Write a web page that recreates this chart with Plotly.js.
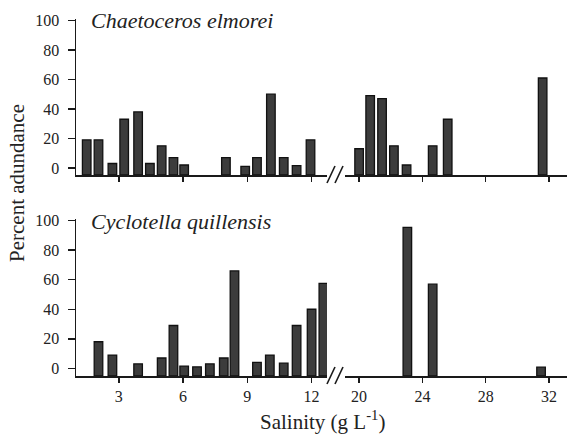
<!DOCTYPE html>
<html>
<head>
<meta charset="utf-8">
<script src="https://cdn.plot.ly/plotly-3.0.1.min.js"></script>
<style>html,body{margin:0;padding:0;background:#fff}</style>
</head>
<body>
<div id="chart" style="width:567px;height:436px"></div>
<script>
// Chaetoceros elmorei (top panel)
const chaetSalinity = [1.5, 2.05, 2.7, 3.25, 3.9, 4.45, 5.0, 5.55, 6.05, 8.0, 8.9, 9.45, 10.1, 10.7, 11.3, 11.95, 20.0, 20.7, 21.45, 22.2, 23.0, 24.65, 25.6, 31.6];
const chaetAbundance = [19, 19, 3, 33, 38, 3, 15, 7, 2, 7, 1, 7, 50, 7, 1.5, 19, 13, 49, 47, 15, 2, 15, 33, 61];
// Cyclotella quillensis (bottom panel)
const cycloSalinity = [2.05, 2.7, 3.9, 5.0, 5.55, 6.05, 6.65, 7.25, 7.9, 8.4, 9.45, 10.05, 10.7, 11.3, 12.0, 12.55, 23.05, 24.65, 31.5];
const cycloAbundance = [18, 9, 3, 7, 29, 1.5, 1, 3, 7, 66, 4, 9, 3.5, 29, 40, 57.5, 95.5, 57, 0.8];
// axis ticks
const lowTicks = [3, 6, 9, 12];
const highTicks = [20, 24, 28, 32];
const yTicks = [0, 20, 40, 60, 80, 100];
const speciesNames = ["Chaetoceros elmorei", "Cyclotella quillensis"];
const yTitle = "Percent adundance";
const xTitle = "Salinity (g L<sup>-1</sup>)";

const BREAK = 16;
const TOP_BASE = -4.8, BOT_BASE = -5.2;
const barFill = '#3c3c3c', barLine = '#111';

function split(sal, val, low) {
  const xs = [], ys = [];
  sal.forEach((s, i) => { if ((s < BREAK) === low) { xs.push(s); ys.push(val[i]); } });
  return [xs, ys];
}
function barTrace(sal, val, low, base, xa, ya, width) {
  const [xs, ys] = split(sal, val, low);
  return {
    type: 'bar', x: xs, y: ys.map(v => v - base), base: base,
    customdata: ys, hovertemplate: '%{x}: %{customdata}%<extra></extra>',
    width: width, xaxis: xa, yaxis: ya,
    marker: {color: barFill, line: {color: barLine, width: 1.3}}
  };
}
const traces = [
  barTrace(chaetSalinity, chaetAbundance, true, TOP_BASE, 'x3', 'y', 0.40),
  barTrace(chaetSalinity, chaetAbundance, false, TOP_BASE, 'x4', 'y', 0.54),
  barTrace(cycloSalinity, cycloAbundance, true, BOT_BASE, 'x', 'y2', 0.40),
  barTrace(cycloSalinity, cycloAbundance, false, BOT_BASE, 'x2', 'y2', 0.54)
];

const serif = "'Liberation Serif', 'Times New Roman', serif";
const tickFont = {family: serif, size: 16, color: '#222'};
const axCol = '#1a1a1a';
const LEFT_DOM = [0, 0.5112], RIGHT_DOM = [0.5479, 1];
const LOW_RANGE = [1, 12.72], HIGH_RANGE = [19.11, 33.14];
function xax(dom, rng, ticks, anchor, labels) {
  return {domain: dom, range: rng, anchor: anchor, tickvals: ticks,
    showticklabels: labels, ticks: 'outside', ticklen: 5, tickwidth: 1.5, tickcolor: axCol,
    showline: true, linecolor: axCol, linewidth: 1.5, showgrid: false, zeroline: false,
    tickfont: tickFont, fixedrange: true};
}
function yax(dom, rng, anchor) {
  return {domain: dom, range: rng, anchor: anchor, tickvals: yTicks, ticks: 'outside', ticklen: 7,
    ticklabelstandoff: 5,
    tickwidth: 1.5, tickcolor: axCol, showline: true, linecolor: axCol, linewidth: 1.5,
    showgrid: false, zeroline: false, tickfont: tickFont, fixedrange: true};
}

// paper coordinate helpers (plot area: x 76..567, y 19..376 px)
const px = v => (v - 76) / 491, py = v => (376 - v) / 357;
function slash(x0, y0, x1, y1) {
  return {type: 'line', xref: 'paper', yref: 'paper', x0: px(x0), y0: py(y0), x1: px(x1), y1: py(y1),
    line: {color: axCol, width: 1.6}};
}
function breakMarks(axisY) {
  return [slash(327, axisY + 8, 335, axisY - 9), slash(335, axisY + 8, 343, axisY - 9)];
}

const layout = {
  width: 567, height: 436,
  margin: {l: 76, r: 0, t: 19, b: 60},
  paper_bgcolor: '#fff', plot_bgcolor: 'rgba(0,0,0,0)',
  showlegend: false, bargap: 0,
  font: {family: serif, color: '#222'},
  xaxis: xax(LEFT_DOM, LOW_RANGE, lowTicks, 'y2', true),
  xaxis2: xax(RIGHT_DOM, HIGH_RANGE, highTicks, 'y2', true),
  xaxis3: xax(LEFT_DOM, LOW_RANGE, lowTicks, 'y', false),
  xaxis4: xax(RIGHT_DOM, HIGH_RANGE, highTicks, 'y', false),
  yaxis: yax([0.563, 1], [TOP_BASE, 101], 'x3'),
  yaxis2: yax([0, 0.44], [BOT_BASE, 101.2], 'x'),
  shapes: [...breakMarks(175), ...breakMarks(376)],
  annotations: [
    {text: speciesNames[0], xref: 'paper', yref: 'paper', x: px(89), y: py(21), xanchor: 'left', yanchor: 'middle',
      showarrow: false, font: {family: serif, size: 22, style: 'italic', color: '#222'}},
    {text: speciesNames[1], xref: 'paper', yref: 'paper', x: px(89), y: py(221), xanchor: 'left', yanchor: 'middle',
      showarrow: false, font: {family: serif, size: 22, style: 'italic', color: '#222'}},
    {text: yTitle, xref: 'paper', yref: 'paper', x: px(17), y: py(183), textangle: -90, xanchor: 'center', yanchor: 'middle',
      showarrow: false, font: {family: serif, size: 21, color: '#222'}},
    {text: xTitle, xref: 'paper', yref: 'paper', x: px(322), y: py(420), xanchor: 'center', yanchor: 'middle',
      showarrow: false, font: {family: serif, size: 21, color: '#222'}}
  ]
};
Plotly.newPlot('chart', traces, layout, {displayModeBar: false, staticPlot: true});
</script>
</body>
</html>
